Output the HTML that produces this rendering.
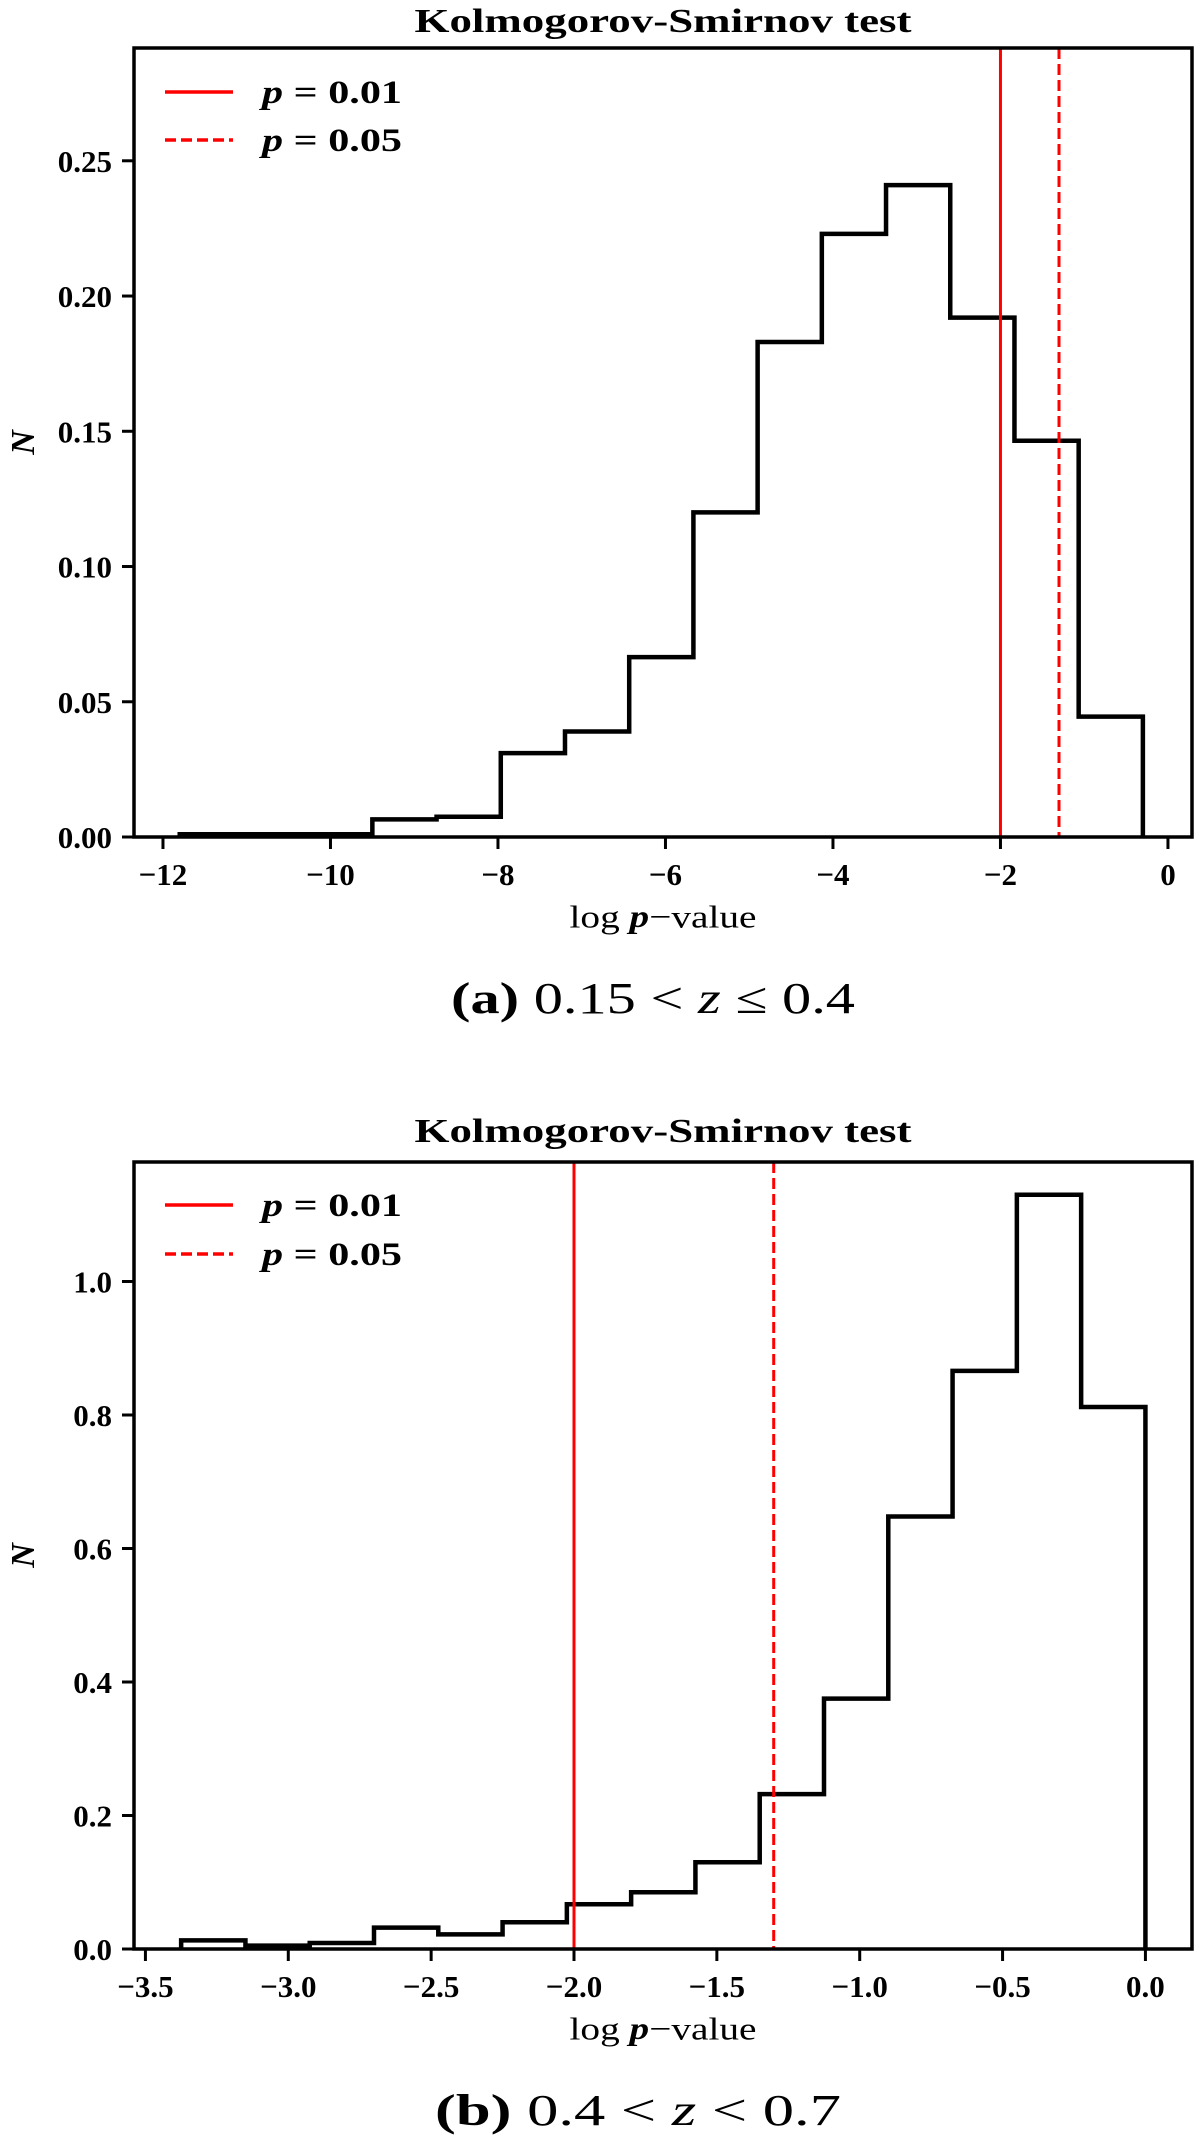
<!DOCTYPE html>
<html><head><meta charset="utf-8"><style>
html,body{margin:0;padding:0;background:#fff}
svg{display:block}
text{font-family:"Liberation Serif",serif;fill:#000}
</style></head><body>
<svg id="fig" width="1200" height="2154" viewBox="0 0 1200 2154" xmlns="http://www.w3.org/2000/svg"></svg>
<script>
// Panel A data
const edgesA_start = -11.8;
const edgesA_width = 0.7667;
const valuesA = [0.001,0.001,0.001,0.0065,0.0075,0.031,0.039,0.0665,0.12,0.183,0.223,0.241,0.192,0.1465,0.0445];
const xTicksA = [-12,-10,-8,-6,-4,-2,0];
const xTickLabelsA = ["\u221212","\u221210","\u22128","\u22126","\u22124","\u22122","0"];
const yTicksA = [0,0.05,0.10,0.15,0.20,0.25];
const yTickLabelsA = ["0.00","0.05","0.10","0.15","0.20","0.25"];
// Panel B data
const edgesB_start = -3.375;
const edgesB_width = 0.225;
const valuesB = [0.013,0.005,0.009,0.032,0.022,0.040,0.067,0.085,0.130,0.232,0.375,0.648,0.866,1.13,0.812];
const xTicksB = [-3.5,-3.0,-2.5,-2.0,-1.5,-1.0,-0.5,0.0];
const xTickLabelsB = ["\u22123.5","\u22123.0","\u22122.5","\u22122.0","\u22121.5","\u22121.0","\u22120.5","0.0"];
const yTicksB = [0,0.2,0.4,0.6,0.8,1.0];
const yTickLabelsB = ["0.0","0.2","0.4","0.6","0.8","1.0"];
const pLines = [-2, Math.log10(0.05)];

const NS="http://www.w3.org/2000/svg";
const svg=document.getElementById('fig');
function mk(tag,attrs,parent){const e=document.createElementNS(NS,tag);for(const k in attrs)e.setAttribute(k,attrs[k]);(parent||svg).appendChild(e);return e;}

function panel(cfg){
  const g=mk('g',{});
  
  
  const L=134,R=1192,T=cfg.top,B=cfg.bottom;
  const sx=v=>L+(v-cfg.xmin)/(cfg.xmax-cfg.xmin)*(R-L);
  const sy=v=>B-(v-cfg.ymin)/(cfg.ymax-cfg.ymin)*(B-T);
  const t=mk('text',{x:(L+R)/2,y:cfg.titleY,'text-anchor':'middle','dominant-baseline':'middle','font-size':34,'font-weight':'bold',textLength:497,lengthAdjust:'spacingAndGlyphs'},g);
  t.textContent='Kolmogorov-Smirnov test';
  
  
  let d='';
  cfg.values.forEach((v,i)=>{
    const x0=sx(cfg.start+i*cfg.width), x1=sx(cfg.start+(i+1)*cfg.width);
    if(i===0) d+=`M${x0},${sy(0)}L${x0},${sy(v)}`; else d+=`L${x0},${sy(v)}`;
    d+=`L${x1},${sy(v)}`;
  });
  d+=`L${sx(cfg.start+cfg.values.length*cfg.width)},${sy(0)}`;
  const h=mk('path',{d:d,fill:'none',stroke:'#000','stroke-width':4.5,'stroke-linejoin':'miter'},g);
  
  
  pLines.forEach((p,i)=>{
    const l=mk('line',{x1:sx(p),x2:sx(p),y1:T,y2:B,stroke:'#f00','stroke-width':3,'stroke-dasharray':i?'11,5':'none'},g);
    
    
  });
  const f=mk('rect',{x:L,y:T,width:R-L,height:B-T,fill:'none',stroke:'#000','stroke-width':3.5},g);
  
  
  cfg.xt.forEach((v,i)=>{
    mk('line',{x1:sx(v),x2:sx(v),y1:B,y2:B+12,stroke:'#000','stroke-width':3},g);
    const tx=mk('text',{x:sx(v),y:B+48,'text-anchor':'middle','font-size':31,'font-weight':'bold'},g);
    tx.textContent=cfg.xl[i];
    
    
  });
  cfg.yt.forEach((v,i)=>{
    mk('line',{x1:L-12,x2:L,y1:sy(v),y2:sy(v),stroke:'#000','stroke-width':3},g);
    const ty=mk('text',{x:L-22,y:sy(v)+11,'text-anchor':'end','font-size':31,'font-weight':'bold'},g);
    ty.textContent=cfg.yl[i];
    
    
  });
  const xl=mk('text',{x:(L+R)/2,y:cfg.xlabelY,'text-anchor':'middle','dominant-baseline':'middle','font-size':32,textLength:187,lengthAdjust:'spacingAndGlyphs'},g);
  xl.innerHTML='log <tspan font-style="italic" font-weight="bold">p</tspan>\u2212value';
  
  
  const yl=mk('text',{x:0,y:0,'text-anchor':'middle','font-size':34,'font-weight':'bold','font-style':'italic',transform:`translate(34,${(T+B)/2}) rotate(-90)`},g);
  yl.textContent='N';
  
  
  const lg=mk('g',{},g);
  
  
  [['0.01','none',cfg.leg1],['0.05','11,5',cfg.leg2]].forEach(([lab,da,y])=>{
    mk('line',{x1:165,x2:233,y1:y,y2:y,stroke:'#f00','stroke-width':3.5,'stroke-dasharray':da},lg);
    const lt=mk('text',{x:262,y:y+11,'font-size':33,'font-weight':'bold',textLength:140,lengthAdjust:'spacingAndGlyphs'},lg);
    lt.innerHTML='<tspan font-style="italic">p</tspan> = '+lab;
    
    
  });
  const c=mk('text',{x:cfg.capX,y:cfg.capY,'text-anchor':'middle','dominant-baseline':'middle','font-size':44,textLength:cfg.capW,lengthAdjust:'spacingAndGlyphs'},g);
  c.innerHTML=cfg.cap;
  
  
}
panel({name:'panel-a',top:48,bottom:837,xmin:-12.346,xmax:0.287,ymin:0,ymax:0.2917,
  start:edgesA_start,width:edgesA_width,values:valuesA,xt:xTicksA,xl:xTickLabelsA,yt:yTicksA,yl:yTickLabelsA,
  titleY:24,xlabelY:920,leg1:92,leg2:140,capY:1003,capX:653,capW:404,
  cap:'<tspan font-weight="bold">(a)</tspan> 0.15 &lt; <tspan font-style="italic">z</tspan> \u2264 0.4'});
panel({name:'panel-b',top:1162,bottom:1949,xmin:-3.54,xmax:0.163,ymin:0,ymax:1.179,
  start:edgesB_start,width:edgesB_width,values:valuesB,xt:xTicksB,xl:xTickLabelsB,yt:yTicksB,yl:yTickLabelsB,
  titleY:1134,xlabelY:2032,leg1:1205,leg2:1254,capY:2115,capX:638,capW:406,
  cap:'<tspan font-weight="bold">(b)</tspan> 0.4 &lt; <tspan font-style="italic">z</tspan> &lt; 0.7'});
</script>
</body></html>
